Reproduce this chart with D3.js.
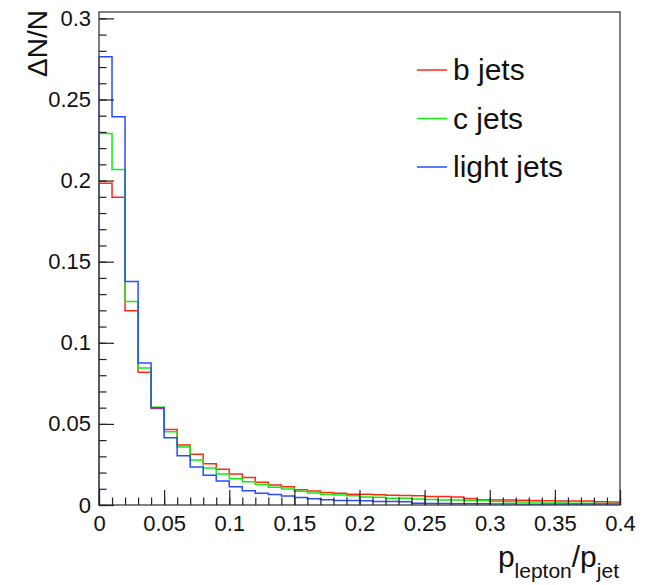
<!DOCTYPE html>
<html>
<head>
<meta charset="utf-8">
<script src="https://cdn.jsdelivr.net/npm/d3@7"></script>
<style>
  body { margin: 0; background: #fff; }
  svg { font-family: "Liberation Sans", Arial, sans-serif; }
</style>
</head>
<body>
<svg width="652" height="585"></svg>
<script>
// 40 bins of width 0.01 from 0 to 0.4
const binEdges = d3.range(0, 41).map(i => i / 100);

const bJets = [
    0.1983, 0.1897, 0.1198, 0.0819, 0.0595, 0.0465, 0.0370, 0.0313, 0.0255, 0.0220,
    0.0191, 0.0169, 0.0140, 0.0124, 0.0113, 0.0094, 0.0086, 0.0077, 0.0072, 0.0067,
    0.0066, 0.0063, 0.0060, 0.0059, 0.0057, 0.0053, 0.0052, 0.0050, 0.0040, 0.0033,
    0.0031, 0.0031, 0.0030, 0.0027, 0.0026, 0.0025, 0.0025, 0.0024, 0.0020, 0.0019
];
const cJets = [
    0.2290, 0.2068, 0.1255, 0.0844, 0.0602, 0.0451, 0.0358, 0.0278, 0.0228, 0.0191,
    0.0162, 0.0144, 0.0127, 0.0110, 0.0098, 0.0085, 0.0074, 0.0067, 0.0062, 0.0057,
    0.0050, 0.0048, 0.0042, 0.0041, 0.0037, 0.0034, 0.0031, 0.0031, 0.0030, 0.0028,
    0.0021, 0.0020, 0.0019, 0.0018, 0.0013, 0.0012, 0.0011, 0.0011, 0.0010, 0.0010
];
const lightJets = [
    0.2763, 0.2393, 0.1378, 0.0875, 0.0599, 0.0414, 0.0304, 0.0235, 0.0183, 0.0148,
    0.0113, 0.0088, 0.0073, 0.0065, 0.0056, 0.0046, 0.0038, 0.0032, 0.0028, 0.0027,
    0.0026, 0.0022, 0.0021, 0.0020, 0.0011, 0.0010, 0.0009, 0.0008, 0.0008, 0.0007,
    0.0006, 0.0006, 0.0005, 0.0005, 0.0005, 0.0005, 0.0004, 0.0004, 0.0004, 0.0004
];

const seriesNames = ["b jets", "c jets", "light jets"];
const seriesColors = ["#ff2a14", "#12ee12", "#2a4cff"];
const seriesValues = [bJets, cJets, lightJets];

const xTicks = [0, 0.05, 0.1, 0.15, 0.2, 0.25, 0.3, 0.35, 0.4];
const xTickLabels = ["0", "0.05", "0.1", "0.15", "0.2", "0.25", "0.3", "0.35", "0.4"];
const yTicks = [0, 0.05, 0.1, 0.15, 0.2, 0.25, 0.3];
const yTickLabels = ["0", "0.05", "0.1", "0.15", "0.2", "0.25", "0.3"];

const margin = { top: 12, right: 32, bottom: 80, left: 99 };
const width = 652, height = 585;

const svg = d3.select("svg");

const x = d3.scaleLinear()
    .domain([0, 0.4])
    .range([margin.left, width - margin.right]);

const yMax = d3.max(seriesValues, s => d3.max(s)) * 1.1;
const y = d3.scaleLinear()
    .domain([0, yMax])
    .range([height - margin.bottom, margin.top]);

// step outline of each histogram
function stepPoints(vals) {
    const pts = [[binEdges[0], 0]];
    vals.forEach((v, i) => {
        pts.push([binEdges[i], v]);
        pts.push([binEdges[i + 1], v]);
    });
    pts.push([binEdges[vals.length], 0]);
    return pts;
}

const line = d3.line().x(d => x(d[0])).y(d => y(d[1]));

svg.append("g")
    .selectAll("path")
    .data(seriesValues)
    .enter().append("path")
    .attr("d", d => line(stepPoints(d)))
    .attr("fill", "none")
    .attr("stroke", (d, i) => seriesColors[i])
    .attr("stroke-width", 1.5);

// frame
svg.append("rect")
    .attr("x", x(0))
    .attr("y", y(yMax))
    .attr("width", x(0.4) - x(0))
    .attr("height", y(0) - y(yMax))
    .attr("fill", "none")
    .attr("stroke", "#555")
    .attr("stroke-width", 1.5);

// x axis: minor and major ticks pointing inward
const xMinor = svg.append("g")
    .attr("transform", `translate(0,${y(0)})`)
    .call(d3.axisBottom(x).tickValues(binEdges).tickSize(-7.5).tickFormat(""));
const xMajor = svg.append("g")
    .attr("transform", `translate(0,${y(0)})`)
    .call(d3.axisBottom(x).tickValues(xTicks).tickSize(-15).tickPadding(10)
        .tickFormat((d, i) => xTickLabels[i]));

// y axis
const yMinor = svg.append("g")
    .attr("transform", `translate(${x(0)},0)`)
    .call(d3.axisLeft(y).tickValues(d3.range(0, 31).map(i => i / 100)).tickSize(-7.5).tickFormat(""));
const yMajor = svg.append("g")
    .attr("transform", `translate(${x(0)},0)`)
    .call(d3.axisLeft(y).tickValues(yTicks).tickSize(-15).tickPadding(8)
        .tickFormat((d, i) => yTickLabels[i]));

[xMinor, xMajor, yMinor, yMajor].forEach(g => {
    g.select(".domain").remove();
    g.selectAll(".tick line").attr("stroke", "#222").attr("stroke-width", 1.2);
    g.selectAll("text").attr("font-size", 22).attr("fill", "#111")
        .attr("font-family", "Liberation Sans, Arial, sans-serif");
});

// axis titles
svg.append("text")
    .attr("transform", "translate(47,10) rotate(-90)")
    .attr("text-anchor", "end")
    .attr("font-size", 28)
    .attr("fill", "#111")
    .text("ΔN/N");

const xt = svg.append("text")
    .attr("x", 619)
    .attr("y", 567)
    .attr("text-anchor", "end")
    .attr("fill", "#111")
    .attr("font-size", 30);
xt.append("tspan").text("p");
xt.append("tspan").attr("font-size", 21).attr("dy", 11).text("lepton");
xt.append("tspan").attr("dy", -11).text("/p");
xt.append("tspan").attr("font-size", 21).attr("dy", 11).text("jet");

// legend
const legend = svg.append("g")
    .selectAll("g")
    .data(seriesNames)
    .enter().append("g")
    .attr("transform", (d, i) => `translate(417,${70 + i * 48.5})`);

legend.append("line")
    .attr("x1", 0).attr("x2", 30)
    .attr("stroke", (d, i) => seriesColors[i])
    .attr("stroke-width", 1.5);

legend.append("text")
    .attr("x", 36)
    .attr("y", 10)
    .attr("font-size", 30)
    .attr("fill", "#111")
    .text(d => d);
</script>
</body>
</html>
